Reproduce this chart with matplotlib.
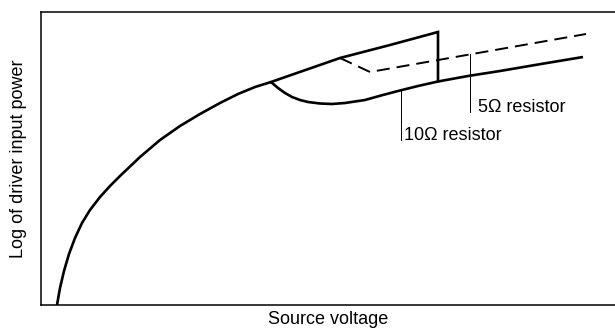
import matplotlib.pyplot as plt

plt.rcParams['font.family'] = ['Liberation Sans', 'DejaVu Sans']

# main curve (common to both resistors), arbitrary units
main_x = [16, 19, 23, 28, 34, 41, 49, 59, 69, 79, 99, 119, 139, 159, 179, 197, 214, 230]
main_y = [0, 17, 34, 51, 67, 82, 95, 108, 119, 129, 148, 165, 179, 191, 202, 211, 218, 223]

# upper branch up to the switch-over point
upper_x = [230, 299, 349, 397, 397]
upper_y = [223, 247, 260, 273, 224]

# 10 ohm resistor branch
r10_x = [230, 237, 244, 251, 259, 267, 279, 291, 304, 324, 340, 357, 377, 397, 427, 459, 500, 542]
r10_y = [223, 217, 212, 208, 205, 203, 201.5, 201, 202, 205, 209.5, 214, 219, 223.5, 229, 234, 241, 248]

# 5 ohm resistor branch (dashed)
r5_x = [299, 329, 545]
r5_y = [247, 233, 271]

# labels: leader line x, leader top, leader bottom, text x, text y
labels = ['5\u03a9 resistor', '10\u03a9 resistor']
lead_x = [429, 360]
lead_top = [251, 215]
lead_bot = [193, 165]
text_x = [437, 363]
text_y = [197, 169]

fig = plt.figure(figsize=(6.15, 3.3), dpi=100)
ax = fig.add_axes([41/615, 25/330, 1 - 41/615, 293/330])

ax.plot(main_x, main_y, color='black', lw=1.9, solid_capstyle='butt')
ax.plot(upper_x, upper_y, color='black', lw=1.9, solid_joinstyle='miter')
ax.plot(r10_x, r10_y, color='black', lw=1.9, solid_capstyle='butt')
ax.plot(r5_x, r5_y, color='black', lw=1.4, linestyle=(0, (6.7, 3.6)))

for lab, lx, lt, lb, tx, ty in zip(labels, lead_x, lead_top, lead_bot, text_x, text_y):
    ax.plot([lx, lx], [lt, lb], color='black', lw=0.7)
    ax.text(tx, ty, lab, fontsize=13, va='center', ha='left')

ax.set_xlim(0, 574)
ax.set_ylim(0, 293)
ax.set_xticks([])
ax.set_yticks([])
ax.spines['right'].set_visible(False)
for s in ['left', 'top', 'bottom']:
    ax.spines[s].set_linewidth(1.1)

ax.set_xlabel('Source voltage', fontsize=13, labelpad=4)
ax.set_ylabel('Log of driver input power', fontsize=13, labelpad=10)

fig.savefig('out.png', dpi=100)
